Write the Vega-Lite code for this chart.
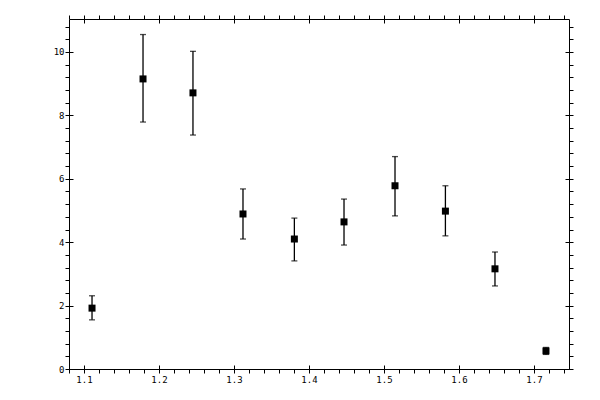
{
  "$schema": "https://vega.github.io/schema/vega-lite/v6.json",
  "width": 500,
  "height": 350,
  "autosize": {"type": "none"},
  "padding": {"left": 69, "top": 19, "right": 31, "bottom": 31},
  "background": "white",
  "data": {"values": [
    {"x": 1.1107, "y": 1.92, "lo": 1.55, "hi": 2.31},
    {"x": 1.1787, "y": 9.15, "lo": 7.79, "hi": 10.55},
    {"x": 1.2453, "y": 8.71, "lo": 7.38, "hi": 10.02},
    {"x": 1.3120, "y": 4.89, "lo": 4.10, "hi": 5.68},
    {"x": 1.3805, "y": 4.10, "lo": 3.41, "hi": 4.76},
    {"x": 1.4467, "y": 4.64, "lo": 3.91, "hi": 5.36},
    {"x": 1.5147, "y": 5.78, "lo": 4.83, "hi": 6.70},
    {"x": 1.5819, "y": 4.98, "lo": 4.20, "hi": 5.78},
    {"x": 1.6480, "y": 3.16, "lo": 2.62, "hi": 3.69},
    {"x": 1.7160, "y": 0.57, "lo": 0.46, "hi": 0.68}
  ]},
  "resolve": {"axis": {"x": "independent", "y": "independent"}},
  "layer": [
    {
      "mark": {"type": "rule", "color": "black", "strokeWidth": 1.3},
      "encoding": {
        "x": {"field": "x", "type": "quantitative", "title": null,
          "scale": {"domain": [1.08, 1.7467], "nice": false, "zero": false},
          "axis": {"orient": "bottom", "domain": true, "ticks": true, "tickSize": 4, "labels": true, "labelPadding": 2,
            "values": [1.08,1.1,1.12,1.14,1.16,1.18,1.2,1.22,1.24,1.26,1.28,1.3,1.32,1.34,1.36,1.38,1.4,1.42,1.44,1.46,1.48,1.5,1.52,1.54,1.56,1.58,1.6,1.62,1.64,1.66,1.68,1.7,1.72,1.74],
            "labelExpr": "abs(datum.value*10 - round(datum.value*10)) < 0.001 ? format(datum.value, '.1f') : ''"}},
        "y": {"field": "lo", "type": "quantitative", "title": null,
          "scale": {"domain": [0, 11.04], "nice": false, "zero": false},
          "axis": {"orient": "left", "domain": true, "ticks": true, "tickSize": 4, "labels": true, "labelPadding": 1,
            "values": [0,0.4,0.8,1.2,1.6,2,2.4,2.8,3.2,3.6,4,4.4,4.8,5.2,5.6,6,6.4,6.8,7.2,7.6,8,8.4,8.8,9.2,9.6,10,10.4,10.8],
            "labelExpr": "abs(datum.value/2 - round(datum.value/2)) < 0.001 ? format(datum.value, 'd') : ''"}},
        "y2": {"field": "hi"}
      }
    },
    {
      "mark": {"type": "tick", "orient": "horizontal", "color": "black", "size": 6, "thickness": 1.3},
      "encoding": {
        "x": {"field": "x", "type": "quantitative", "title": null,
          "scale": {"domain": [1.08, 1.7467], "nice": false, "zero": false},
          "axis": {"orient": "top", "domain": true, "ticks": true, "tickSize": 4, "labels": false,
            "values": [1.08,1.1,1.12,1.14,1.16,1.18,1.2,1.22,1.24,1.26,1.28,1.3,1.32,1.34,1.36,1.38,1.4,1.42,1.44,1.46,1.48,1.5,1.52,1.54,1.56,1.58,1.6,1.62,1.64,1.66,1.68,1.7,1.72,1.74]}},
        "y": {"field": "hi", "type": "quantitative", "title": null,
          "scale": {"domain": [0, 11.04], "nice": false, "zero": false},
          "axis": {"orient": "right", "domain": true, "ticks": true, "tickSize": 4, "labels": false,
            "values": [0,0.4,0.8,1.2,1.6,2,2.4,2.8,3.2,3.6,4,4.4,4.8,5.2,5.6,6,6.4,6.8,7.2,7.6,8,8.4,8.8,9.2,9.6,10,10.4,10.8]}}
      }
    },
    {
      "mark": {"type": "tick", "orient": "horizontal", "color": "black", "size": 6, "thickness": 1.3},
      "encoding": {
        "x": {"field": "x", "type": "quantitative", "title": null,
          "scale": {"domain": [1.08, 1.7467], "nice": false, "zero": false},
          "axis": {"orient": "bottom", "domain": false, "ticks": true, "tickSize": 4, "offset": -4, "labels": false,
            "values": [1.1,1.2,1.3,1.4,1.5,1.6,1.7]}},
        "y": {"field": "lo", "type": "quantitative", "title": null,
          "scale": {"domain": [0, 11.04], "nice": false, "zero": false},
          "axis": {"orient": "left", "domain": false, "ticks": true, "tickSize": 4, "offset": -4, "labels": false,
            "values": [0,2,4,6,8,10]}}
      }
    },
    {
      "mark": {"type": "square", "color": "black", "size": 49, "opacity": 1},
      "encoding": {
        "x": {"field": "x", "type": "quantitative", "title": null,
          "scale": {"domain": [1.08, 1.7467], "nice": false, "zero": false},
          "axis": {"orient": "top", "domain": false, "ticks": true, "tickSize": 4, "offset": -4, "labels": false,
            "values": [1.1,1.2,1.3,1.4,1.5,1.6,1.7]}},
        "y": {"field": "y", "type": "quantitative", "title": null,
          "scale": {"domain": [0, 11.04], "nice": false, "zero": false},
          "axis": {"orient": "right", "domain": false, "ticks": true, "tickSize": 4, "offset": -4, "labels": false,
            "values": [0,2,4,6,8,10]}}
      }
    }
  ],
  "config": {
    "view": {"stroke": null},
    "axis": {
      "grid": false,
      "domainColor": "black",
      "domainWidth": 1,
      "tickColor": "black",
      "tickWidth": 1,
      "labelColor": "black",
      "labelFont": "DejaVu Sans Mono",
      "labelFontSize": 9,
      "labelFlush": false,
      "labelOverlap": false
    }
  }
}
